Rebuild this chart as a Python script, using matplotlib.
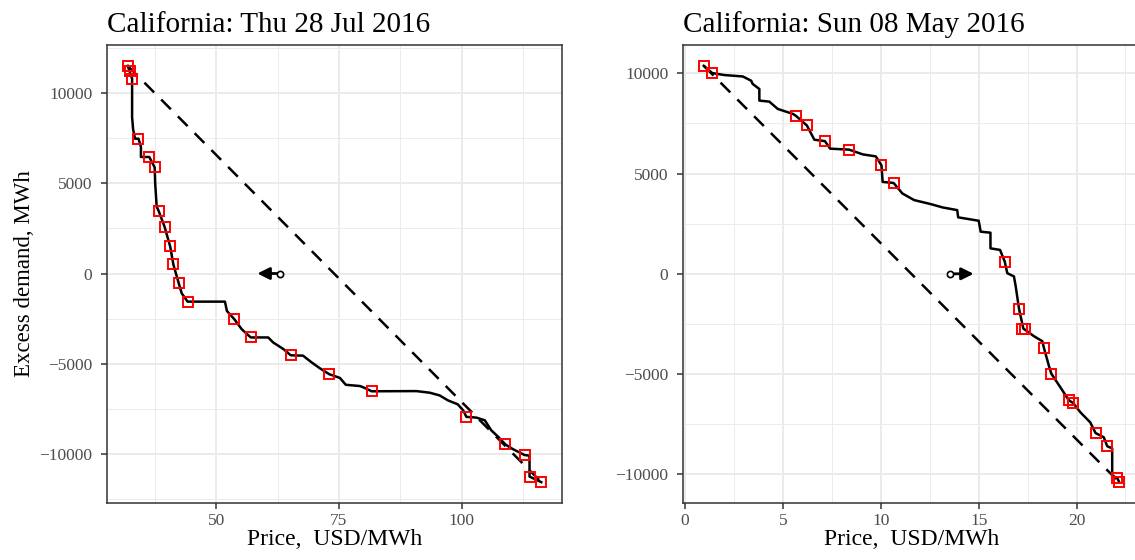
import numpy as np
import matplotlib
matplotlib.use("Agg")
import matplotlib.pyplot as plt
from matplotlib.ticker import MultipleLocator

plt.rcParams['font.family'] = ['Liberation Serif', 'DejaVu Serif']

# --- left panel: Thu 28 Jul 2016 ---
jul_title = "California: Thu 28 Jul 2016"
jul_curve_price = [32.0, 32.4, 32.9, 32.9, 33.1, 33.5, 34.2, 34.7, 34.7, 36.4, 37.5, 37.6,
                   37.9, 38.3, 39.5, 40.65, 41.3, 42.4, 43.0, 44.2, 51.8, 52.2, 53.7,
                   55.2, 57.05, 60.6, 61.6, 63.7, 65.2, 67.7, 69.4, 71.1, 73.0, 75.2,
                   76.4, 79.3, 80.3, 81.65, 90.8, 93.5, 95.5, 97.2, 99.2, 100.3, 100.95,
                   103.0, 104.7, 106.0, 107.4, 108.9, 110.4, 112.8, 113.8, 113.8, 113.8,
                   116.2]
jul_curve_demand = [11515, 11200, 10800, 8670, 8000, 7475, 7475, 7020, 6460, 6460, 5880, 5000,
                    3710, 3470, 2600, 1500, 500, -550, -1100, -1560, -1560, -2080, -2530,
                    -3085, -3545, -3545, -3820, -4190, -4535, -4555, -4920, -5250, -5580,
                    -5790, -6170, -6240, -6350, -6530, -6520, -6610, -6760, -7035, -7255,
                    -7590, -7950, -7990, -8140, -8690, -9050, -9480, -9735, -10065, -10100,
                    -11075, -11260, -11570]
jul_hour_price = [32.0, 32.4, 32.9, 34.2, 36.4, 37.5, 38.3, 39.5, 40.65, 41.3, 42.4, 44.2,
                  53.7, 57.05, 65.2, 73.0, 81.65, 100.95, 108.9, 112.8, 113.8, 116.2]
jul_hour_demand = [11515, 11200, 10800, 7475, 6460, 5880, 3470, 2600, 1500, 500, -550, -1560,
                   -2530, -3545, -4535, -5580, -6530, -7950, -9480, -10065, -11260, -11570]
jul_arrow_from = (63.0, 0)
jul_arrow_to = (58.4, 0)

# --- right panel: Sun 08 May 2016 ---
may_title = "California: Sun 08 May 2016"
may_curve_price = [0.95, 1.38, 2.0, 2.94, 3.37, 3.45, 3.79, 3.79, 4.3, 4.73, 5.5, 5.66, 6.22,
                   6.6, 7.14, 7.41, 8.38, 9.07, 9.74, 10.03, 10.09, 10.65, 11.1, 11.7, 12.55,
                   13.15, 13.9, 13.95, 15.0, 15.1, 15.6, 15.6, 16.09, 16.33, 16.46, 16.8,
                   16.89, 17.06, 17.28, 17.82, 18.25, 18.33, 18.59, 18.71, 19.18, 19.6,
                   19.83, 20.2, 20.7, 20.97, 21.39, 21.57, 21.82, 21.82, 22.08, 22.18]
may_curve_demand = [10370, 10010, 9910, 9840, 9630, 9465, 9215, 8635, 8585, 8220, 7975, 7875,
                    7395, 6685, 6615, 6240, 6190, 5955, 5855, 5410, 4580, 4530, 4005, 3675,
                    3475, 3310, 3175, 2815, 2645, 2100, 2050, 1270, 1190, 610, 30, -130,
                    -625, -1750, -2730, -3110, -3360, -3690, -4600, -4980, -5670, -6300,
                    -6450, -6910, -7410, -7940, -8150, -8600, -8700, -10060, -10190, -10390]
may_hour_price = [0.95, 1.38, 5.66, 6.22, 7.14, 8.38, 10.03, 10.65, 16.33, 17.06, 17.21,
                  17.36, 18.33, 18.71, 19.6, 19.83, 20.97, 21.57, 22.08, 22.18]
may_hour_demand = [10370, 10010, 7875, 7395, 6615, 6190, 5410, 4530, 610, -1750, -2730,
                   -2730, -3690, -4980, -6300, -6450, -7940, -8600, -10190, -10390]
may_arrow_from = (13.54, 0)
may_arrow_to = (14.74, 0)

xlabel = "Price,  USD/MWh"
ylabel = "Excess demand, MWh"


def panel(ax, title, cp, cd, hp, hd, a_from, a_to, xmajor):
    # grid like ggplot theme_bw
    ax.set_axisbelow(True)
    ax.grid(which='major', color='#EBEBEB', lw=1.4)
    ax.grid(which='minor', color='#EBEBEB', lw=0.7)
    ax.xaxis.set_major_locator(MultipleLocator(xmajor))
    ax.xaxis.set_minor_locator(MultipleLocator(xmajor / 2))
    ax.yaxis.set_major_locator(MultipleLocator(5000))
    ax.yaxis.set_minor_locator(MultipleLocator(2500))

    # straight line between first and last hour
    ax.plot([hp[0], hp[-1]], [hd[0], hd[-1]], color='black', lw=1.8,
            linestyle=(0, (5.5, 4)))
    ax.plot(cp, cd, color='black', lw=1.8)
    ax.plot(hp, hd, linestyle='none', marker='s', ms=6.5, mfc='none',
            mec='#FF0000', mew=1.4)

    ax.annotate('', xy=a_to, xytext=a_from,
                arrowprops=dict(arrowstyle='-|>', color='black', lw=2.0,
                                mutation_scale=18, shrinkA=0, shrinkB=0))
    ax.plot([a_from[0]], [a_from[1]], marker='o', ms=4.5, mfc='white',
            mec='black', mew=1.2, zorder=5)

    xr = max(cp) - min(cp)
    yr = max(cd) - min(cd)
    ax.set_xlim(min(cp) - 0.05 * xr, max(cp) + 0.05 * xr)
    ax.set_ylim(min(cd) - 0.05 * yr, max(cd) + 0.05 * yr)

    for s in ax.spines.values():
        s.set_color('#333333')
        s.set_linewidth(1.1)
    ax.tick_params(which='major', length=4, width=1.1, color='#333333',
                   labelcolor='#4D4D4D', labelsize=12.5)
    ax.tick_params(axis='y', which='major', pad=6.5)
    ax.tick_params(which='minor', length=0)
    ax.set_title(title, loc='left', fontsize=21, pad=9)
    ax.set_xlabel(xlabel, fontsize=17, labelpad=0)


fig = plt.figure(figsize=(11.35, 5.6), dpi=100)
ax1 = fig.add_axes([107 / 1135, 1 - 503 / 560, 455 / 1135, 458 / 560])
ax2 = fig.add_axes([683 / 1135, 1 - 503 / 560, 457 / 1135, 458 / 560])

panel(ax1, jul_title, jul_curve_price, jul_curve_demand, jul_hour_price,
      jul_hour_demand, jul_arrow_from, jul_arrow_to, 25)
panel(ax2, may_title, may_curve_price, may_curve_demand, may_hour_price,
      may_hour_demand, may_arrow_from, may_arrow_to, 5)
ax1.set_ylabel(ylabel, fontsize=16.5, labelpad=3)

fig.savefig("out.png", dpi=100)
